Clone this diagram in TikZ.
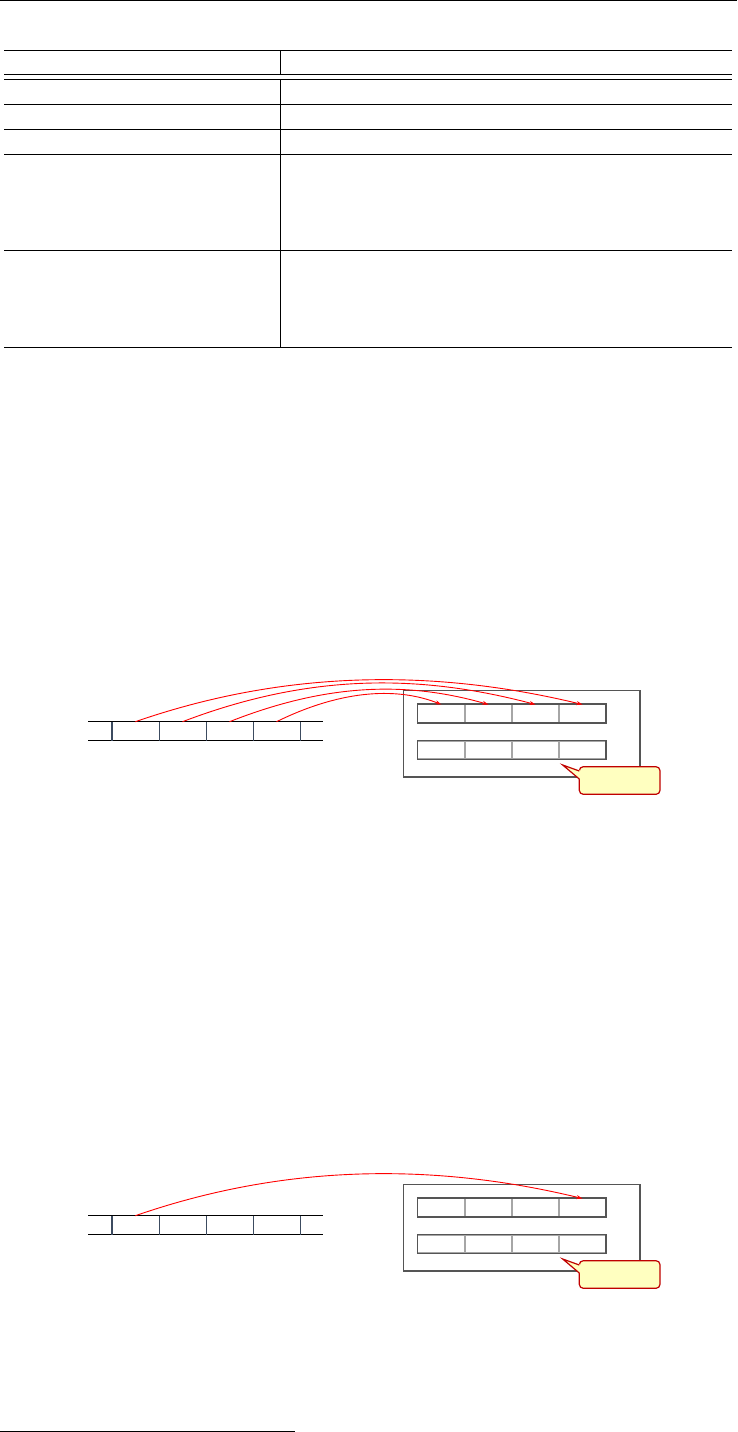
\documentclass[tikz,border=0pt]{standalone}
\usetikzlibrary{arrows.meta}
\definecolor{bandblue}{HTML}{3C4B60}
\definecolor{boxgray}{HTML}{555555}
\definecolor{divgray}{HTML}{A6A6A6}
\definecolor{calloutred}{HTML}{C00000}
\definecolor{calloutfill}{HTML}{FFFFC0}
\tikzset{
  rule/.style={line width=1pt, black},
  bandline/.style={line width=1.5pt, black},
  banddiv/.style={line width=1pt, bandblue},
  bandcell/.style={draw=none, minimum width=47pt, minimum height=19pt, inner sep=0pt, outer sep=0pt},
  slotcell/.style={draw=divgray, line width=1.2pt, minimum width=47.1pt, minimum height=18pt, inner sep=0pt, outer sep=0pt},
  slotrow/.style={draw=boxgray, line width=1.5pt},
  outerbox/.style={draw=boxgray, line width=1.4pt},
  callbox/.style={draw=calloutred, fill=calloutfill, line width=1.2pt, rounded corners=4pt, minimum width=80.7pt, minimum height=27.6pt, inner sep=0pt},
  conn/.style={red, line width=0.9pt, -{Stealth[length=6pt,width=4pt]}},
}
\newcommand\memdiagram[2]{%
  \begin{scope}[shift={(0,#2)}]
    % band (left)
    \draw[bandline] (88,721.7) -- (323,721.7);
    \draw[bandline] (88,740.7) -- (323,740.7);
    \node[bandcell] (#1b1) at (135.35,731.2) {};
    \node[bandcell] (#1b2) at (182.5,731.2) {};
    \node[bandcell] (#1b3) at (229.5,731.2) {};
    \node[bandcell] (#1b4) at (276.5,731.2) {};
    \draw[banddiv, line width=2pt] (111.7,721.7) -- (111.7,740.7);
    \foreach \x in {159,206,253,300} \draw[banddiv] (\x,721.7) -- (\x,740.7);
    % outer box
    \draw[outerbox] (403.7,690.7) rectangle (640,777);
    % row 1
    \node[slotcell] (#1r1) at (441.35,713.5) {};
    \node[slotcell] (#1r2) at (488.5,713.5) {};
    \node[slotcell] (#1r3) at (535.5,713.5) {};
    \node[slotcell] (#1r4) at (582.5,713.5) {};
    \draw[slotrow] (417.7,704) rectangle (606,723);
    % row 2
    \node[slotcell] (#1s1) at (441.35,750) {};
    \node[slotcell] (#1s2) at (488.5,750) {};
    \node[slotcell] (#1s3) at (535.5,750) {};
    \node[slotcell] (#1s4) at (582.5,750) {};
    \draw[slotrow] (417.7,740.7) rectangle (606,759.3);
    % callout
    \node[callbox] (#1c) at (619.65,780.5) {};
    \coordinate (#1tip) at (562.7,765);
    \fill[calloutfill] (#1tip) -- (580.3,770.5) -- (580.3,779.5) -- cycle;
    \draw[calloutred, line width=1.2pt, line join=miter] (579.3,771) -- (#1tip) -- (579.3,779);
  \end{scope}%
}
\begin{document}
\begin{tikzpicture}[x=1pt,y=-1pt]
  \useasboundingbox (0,0) rectangle (737,1432);
  % page top rule
  \draw[rule] (0,0.5) -- (737,0.5);
  % table
  \foreach \y in {50.3,74,79,104,129,154,250,347} \draw[rule] (4,\y) -- (732,\y);
  \draw[rule] (280,50.3) -- (280,74);
  \draw[rule] (280,79) -- (280,347);
  % diagram 1
  \memdiagram{A}{0}
  \draw[conn] (Ab1.north) .. controls (290,668) and (440,670) .. (Ar4.north);
  \draw[conn] (Ab2.north) .. controls (310,673) and (420,674) .. (Ar3.north);
  \draw[conn] (Ab3.north) .. controls (330,682) and (410,682) .. (Ar2.north);
  \draw[conn] (Ab4.north) .. controls (345,688) and (400,688) .. (Ar1.north);
  % diagram 2
  \memdiagram{B}{494}
  \draw[conn] (Bb1.north) .. controls (290,1162) and (440,1164) .. (Br4.north);
  % footnote rule
  \draw[rule] (0,1431.3) -- (295,1431.3);
\end{tikzpicture}
\end{document}
